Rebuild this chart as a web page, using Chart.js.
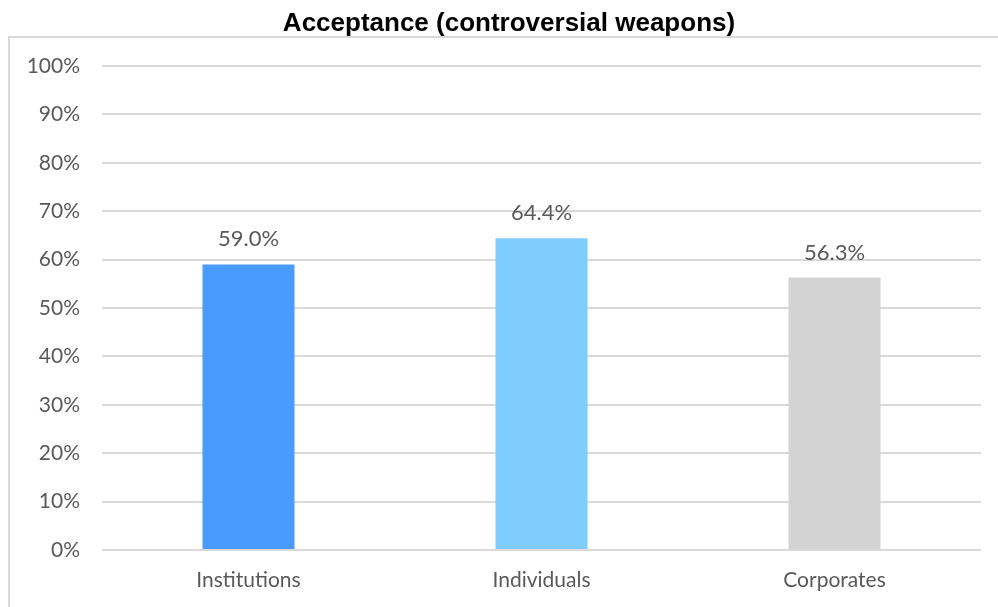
<!DOCTYPE html>
<html>
<head>
<meta charset="utf-8">
<script src="https://cdn.jsdelivr.net/npm/chart.js@4.4.6/dist/chart.umd.min.js"></script>
<style>
  html, body { margin: 0; padding: 0; background: #fff; }
  #wrap { width: 998px; height: 607px; position: relative; }
</style>
</head>
<body>
<div id="wrap"><canvas id="chart" width="998" height="607"></canvas></div>
<script>
// data
const categories = ['Institutions', 'Individuals', 'Corporates']
const acceptance = [59.0, 64.4, 56.3]
const barColors = ['#4a9aff', '#7fccff', '#d3d3d3']
const yTicks = [0, 10, 20, 30, 40, 50, 60, 70, 80, 90, 100]
const chartTitle = 'Acceptance (controversial weapons)'

const TEXT = '#595959'
const GRID = '#d9d9d9'
const FONT = 'Lato, "Noto Sans", sans-serif'

// outer frame + title, drawn on the canvas behind the chart
const framePlugin = {
  id: 'frame',
  beforeDraw (chart) {
    const ctx = chart.ctx
    ctx.save()
    ctx.strokeStyle = GRID
    ctx.lineWidth = 2
    ctx.beginPath()
    ctx.moveTo(9, chart.height)
    ctx.lineTo(9, 37)
    ctx.lineTo(chart.width, 37)
    ctx.stroke()
    ctx.fillStyle = '#000'
    ctx.font = 'bold 26px "Liberation Sans", Arial, sans-serif'
    ctx.textAlign = 'center'
    ctx.textBaseline = 'alphabetic'
    ctx.fillText(chartTitle, 509, 31)
    ctx.restore()
  }
}

// value labels above the bars
const valueLabels = {
  id: 'valueLabels',
  afterDatasetsDraw (chart) {
    const ctx = chart.ctx
    const meta = chart.getDatasetMeta(0)
    ctx.save()
    ctx.fillStyle = TEXT
    ctx.font = '22px ' + FONT
    ctx.textAlign = 'center'
    ctx.textBaseline = 'alphabetic'
    meta.data.forEach((bar, i) => {
      ctx.fillText(acceptance[i].toFixed(1) + '%', bar.x, bar.y - 18)
    })
    ctx.restore()
  }
}

new Chart(document.getElementById('chart'), {
  type: 'bar',
  data: {
    labels: categories,
    datasets: [{
      data: acceptance,
      backgroundColor: barColors,
      borderWidth: 0,
      categoryPercentage: 1,
      barPercentage: 0.314
    }]
  },
  options: {
    responsive: false,
    animation: false,
    layout: { padding: { top: 66, right: 17, bottom: 0, left: 0 } },
    plugins: { legend: { display: false }, tooltip: { enabled: false }, title: { display: false } },
    scales: {
      x: {
        grid: { display: false, drawTicks: false },
        border: { display: false },
        ticks: { color: TEXT, font: { family: FONT, size: 21 }, padding: 18 },
        afterFit: s => { s.height = 57 }
      },
      y: {
        min: 0,
        max: 100,
        afterBuildTicks: s => { s.ticks = yTicks.map(v => ({ value: v })) },
        grid: { color: GRID, lineWidth: 2, drawTicks: false },
        border: { display: false },
        ticks: { color: TEXT, font: { family: FONT, size: 21 }, padding: 22, callback: v => v + '%' },
        afterFit: s => { s.width = 102 }
      }
    }
  },
  plugins: [framePlugin, valueLabels]
})
</script>
</body>
</html>
